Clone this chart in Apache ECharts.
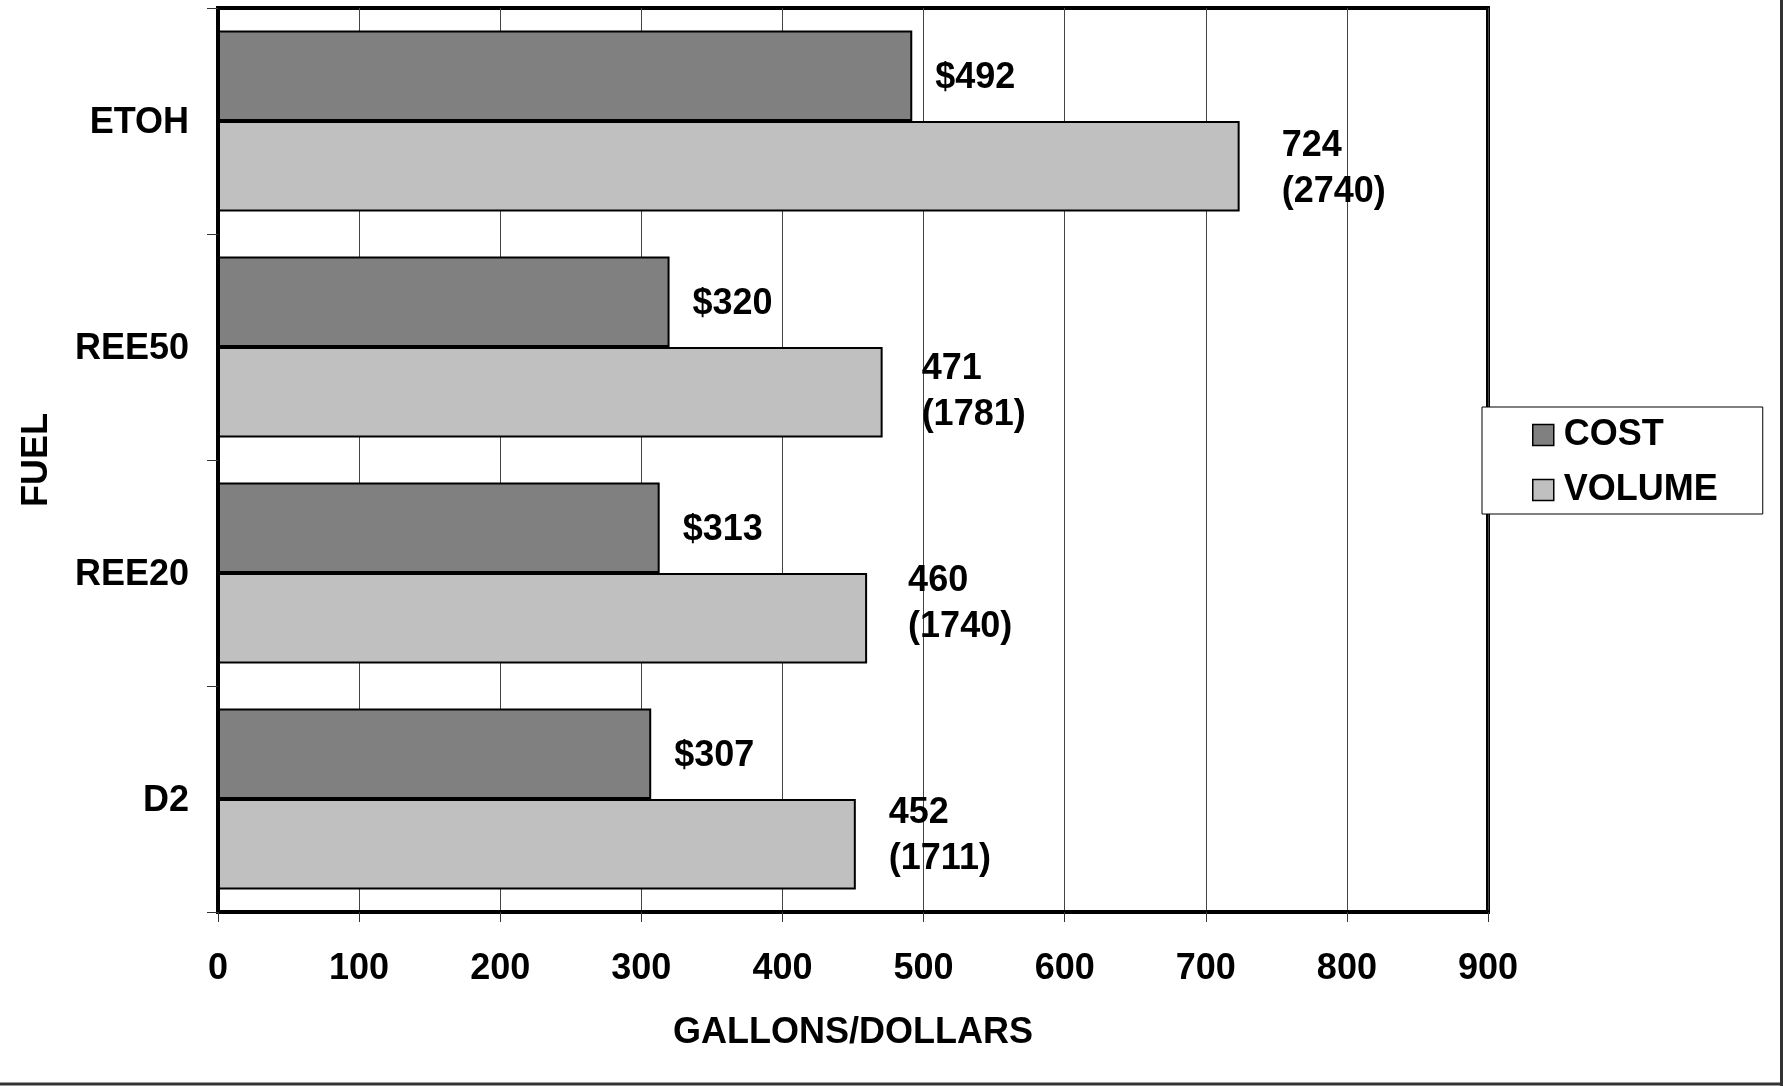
<!DOCTYPE html>
<html>
<head>
<meta charset="utf-8">
<title>Fuel cost and volume</title>
<script src="https://cdn.jsdelivr.net/npm/echarts@6/dist/echarts.min.js"></script>
<style>
  html, body { margin: 0; padding: 0; background: #fff; }
  #chart { width: 1783px; height: 1086px; }
</style>
</head>
<body>
<div id="chart"></div>
<script>
// Fuels, listed top to bottom
const fuels = ['ETOH', 'REE50', 'REE20', 'D2'];
// Cost in dollars
const costValues = [492, 320, 313, 307];
// Volume in gallons, with the litre figure shown in brackets
const volumeGallons = [724, 471, 460, 452];
const volumeLitres = [2740, 1781, 1740, 1711];
// Value axis ticks
const axisMin = 0;
const axisMax = 900;
const axisStep = 100;

const FONT = '"Liberation Sans", Arial, sans-serif';
const textBase = { fontFamily: FONT, fontWeight: 'bold', fontSize: 36, color: '#000' };

// hand-placed nudges [dx, dy] for the two-line volume labels
const volumeLabelNudge = [[0, 3], [-3, 0], [-1, -14], [-9, -8]];

const volumeData = volumeGallons.map((v, i) => ({
  value: v,
  label: { offset: volumeLabelNudge[i] }
}));

const chart = echarts.init(document.getElementById('chart'), null, { renderer: 'canvas' });

chart.setOption({
  backgroundColor: '#fff',
  animation: false,
  grid: {
    left: 218, right: 295, top: 8, bottom: 174,
    show: true, borderColor: '#000', borderWidth: 4, backgroundColor: 'transparent'
  },
  legend: {
    orient: 'vertical',
    left: 1482, top: 407,
    padding: [10, 45, 6, 50],
    itemWidth: 21, itemHeight: 21, itemGap: 19,
    backgroundColor: '#fff',
    borderColor: '#000', borderWidth: 1,
    icon: 'rect',
    itemStyle: { borderColor: '#000', borderWidth: 1.5 },
    textStyle: Object.assign({}, textBase, { padding: [0, 0, 0, 5] }),
    data: ['COST', 'VOLUME']
  },
  xAxis: {
    type: 'value',
    min: axisMin, max: axisMax, interval: axisStep,
    name: 'GALLONS/DOLLARS',
    nameLocation: 'middle',
    nameGap: 103,
    nameTextStyle: textBase,
    axisLine: { show: true, lineStyle: { color: '#000', width: 4 } },
    axisTick: { show: true, length: 10, lineStyle: { color: '#333', width: 1 } },
    axisLabel: Object.assign({}, textBase, { margin: 39 }),
    splitLine: { show: true, lineStyle: { color: '#444', width: 1 } }
  },
  yAxis: {
    type: 'category',
    data: fuels,
    inverse: true,
    name: 'FUEL',
    nameLocation: 'middle',
    nameRotate: 90,
    nameGap: 163,
    nameTextStyle: textBase,
    axisLine: { show: true, lineStyle: { color: '#000', width: 4 } },
    axisTick: { show: true, length: 11, lineStyle: { color: '#333', width: 1 } },
    axisLabel: Object.assign({}, textBase, {
      margin: 29,
      formatter: v => '{f|' + v + '}',
      rich: { f: Object.assign({}, textBase, { padding: [5, 0, 0, 0] }) }
    }),
    splitLine: { show: false }
  },
  series: [
    {
      name: 'COST',
      type: 'bar',
      data: costValues,
      barGap: '0%',
      barCategoryGap: '20%',
      itemStyle: { color: '#808080', borderColor: '#000', borderWidth: 2 },
      label: {
        show: true, position: 'right', distance: 23, offset: [0, 2.5],
        formatter: p => '$' + p.value,
        fontFamily: FONT, fontWeight: 'bold', fontSize: 36, color: '#000'
      }
    },
    {
      name: 'VOLUME',
      type: 'bar',
      data: volumeData,
      barGap: '0%',
      barCategoryGap: '20%',
      itemStyle: { color: '#c0c0c0', borderColor: '#000', borderWidth: 2 },
      label: {
        show: true, position: 'right', distance: 42,
        formatter: p => p.value + '\n(' + volumeLitres[p.dataIndex] + ')',
        fontFamily: FONT, fontWeight: 'bold', fontSize: 36, lineHeight: 46,
        color: '#000', align: 'left'
      }
    }
  ],
  graphic: [
    // page frame along the bottom and right edges
    { type: 'line', shape: { x1: 0, y1: 1084, x2: 1783, y2: 1084 },
      style: { stroke: '#333', lineWidth: 3 }, silent: true },
    { type: 'line', shape: { x1: 1781.5, y1: 0, x2: 1781.5, y2: 1086 },
      style: { stroke: '#333', lineWidth: 3 }, silent: true }
  ]
});
</script>
</body>
</html>
